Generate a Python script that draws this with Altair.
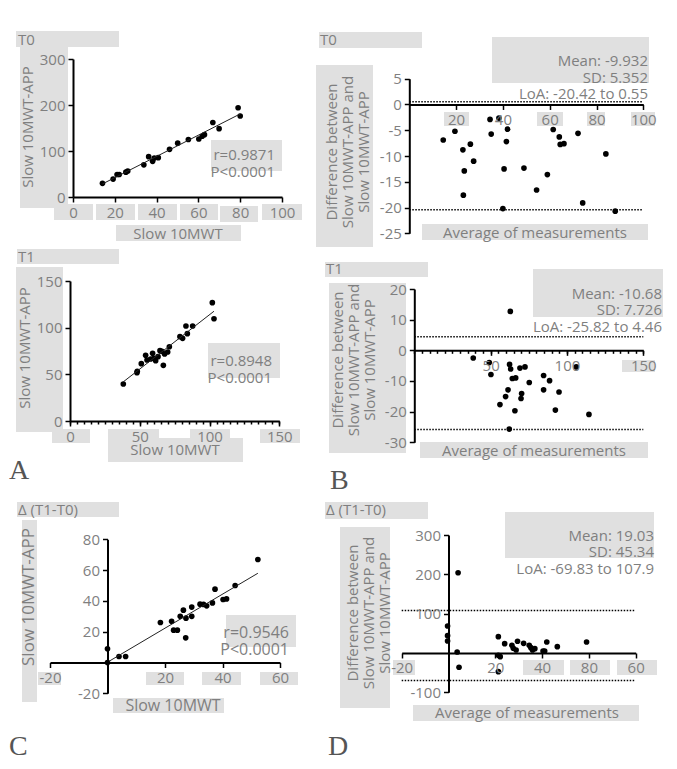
import altair as alt
import pandas as pd

# ---------------- data ----------------
t0_slow = [14.1, 19.2, 21.1, 22.1, 25.3, 26.2, 33.9, 36.2, 38.1, 38.9, 40.8,
           46.2, 50.1, 55.2, 60.2, 61.8, 62.9, 66.9, 69.9, 79.0, 80.0]
t0_app = [29.7, 39, 49, 49, 54, 56.5, 70, 87.7, 77.5, 84.8, 85.5,
          103.6, 117, 125, 126, 132, 135.5, 162, 148.6, 194, 176]

t1_slow = [38.2, 48.0, 48.2, 51.1, 54.2, 55.2, 57.8, 59.2, 60.2, 61.4, 63.1, 64.5,
           65.9, 66.9, 67.8, 70.0, 71.2, 78.8, 80.7, 83.1, 84.1, 87.9, 102.0, 103.2]
t1_app = [39.6, 51.8, 53.2, 61.4, 70.4, 65.4, 66.4, 72.5, 67.1, 64.6, 68.9, 75.4,
          74.6, 59.6, 71.8, 73.9, 79.6, 90.4, 88.6, 101.8, 93.6, 101.8, 126.8, 109.6]

d_slow = [0, 0, 4.0, 6.3, 18.4, 22.3, 23.0, 24.3, 25.3, 26.4, 27.2, 27.3, 29.3,
          29.3, 32.2, 33.4, 34.5, 36.5, 37.4, 40.2, 41.4, 44.4, 52.3]
d_app = [8.9, 0, 3.9, 3.9, 26, 26.8, 21, 21, 30, 34, 16, 28.8, 36,
         30, 37.9, 37.7, 36.8, 38.7, 47.6, 40.9, 41.3, 50, 66.9]

ba0_avg = [14.5, 19.5, 22.9, 23.5, 23.1, 26.1, 27.5, 34.5, 35.0, 38.3, 40.0, 40.5, 41.5,
           42.0, 49.0, 54.4, 59.0, 61.5, 64.1, 64.5, 66.1, 72.1, 74.1, 84.0, 88.0]
ba0_diff = [-6.9, -5.2, -8.8, -12.9, -17.6, -7.7, -11.0, -2.9, -5.75, -2.65, -20.2, -12.5, -7.2,
            -4.8, -12.35, -16.6, -13.6, -4.85, -6.3, -7.75, -7.6, -5.6, -19.1, -9.6, -20.7]
ba0_loa = [0.55, -20.42]

ba1_avg = [38.6, 49.1, 50.2, 62.9, 62.4, 63.1, 64.2, 66.4, 61.4, 59.8, 56.1, 65.9, 62.2,
           69.2, 72.5, 70.3, 69.9, 75.3, 84.7, 84.7, 88.6, 92.4, 94.8, 106.1, 114.4]
ba1_diff = [-2.5, -4.0, -7.9, 12.7, -4.6, -6.1, -9.2, -9.0, -12.9, -15.1, -17.7, -19.7, -25.7,
            -5.8, -5.4, -14.1, -15.7, -10.5, -8.2, -12.9, -9.9, -19.5, -13.6, -5.4, -20.9]
ba1_loa = [4.46, -25.82]

bad_avg = [4.1, -0.4, -0.4, -0.4, 3.7, 4.5, 21.3, 21.3, 21.3, 22.1, 24.0, 27.1, 27.7,
           28.9, 29.5, 32.1, 34.5, 35.2, 36.9, 35.9, 40.4, 41.1, 42.0, 46.5, 59.0]
bad_diff = [204, 68.6, 44, 30.5, 2.5, -36.4, 41.5, -47.5, -6, -9.3, 23.7, 19.5, 11.9,
            7.6, 29.7, 24.6, 19.5, 13.6, 11, 7.6, 5, 5, 28, 16.1, 28]
bad_loa = [107.9, -69.83]

# ---------------- layout ----------------
M = 8
W, H = 661, 753
TXT = "#7f7f7f"
BOX = "#e0e0e0"
FONT = "Open Sans"
NUM = "'' + datum.value"


def lin(v, d, r):
    return r[0] + (v - d[0]) / (d[1] - d[0]) * (r[1] - r[0])


def sc(d, r):
    return alt.Scale(domain=d, range=[r[0] - M, r[1] - M], nice=False, zero=False)


def panel(xv, yv, p, reg=False, loa=None, loa_ext=None, minor=None):
    df = pd.DataFrame({"x": xv, "y": yv})
    x0 = lin(0, p["xdom"], p["xr"])
    y0 = lin(0, p["ydom"], p["yr"])
    xoff = (y0 - M) - H
    yoff = -(x0 - M)
    xaxis = alt.Axis(orient="bottom", offset=xoff, values=p["xvals"], labelExpr=p.get("xexpr", NUM),
                     title=None, grid=False, labelFlush=False, zindex=1, tickSize=5)
    yaxis = alt.Axis(orient="left", offset=yoff, values=p["yvals"], labelExpr=NUM,
                     title=None, grid=False, zindex=1, tickSize=5)
    layers = []
    if loa is not None:
        ldf = pd.DataFrame({"loa": loa, "a": [loa_ext[0]] * len(loa), "b": [loa_ext[1]] * len(loa)})
        layers.append(alt.Chart(ldf).mark_rule(color="black", strokeWidth=1.5, strokeDash=[1.5, 1.5]).encode(
            x=alt.X("a:Q", scale=sc(p["xdom"], p["xr"]), axis=xaxis),
            x2="b:Q",
            y=alt.Y("loa:Q", scale=sc(p["ydom"], p["yr"]), axis=yaxis)))
        pts = alt.Chart(df).mark_circle(size=32, color="black", opacity=1).encode(x="x:Q", y="y:Q")
    else:
        pts = alt.Chart(df).mark_circle(size=32, color="black", opacity=1).encode(
            x=alt.X("x:Q", scale=sc(p["xdom"], p["xr"]), axis=xaxis),
            y=alt.Y("y:Q", scale=sc(p["ydom"], p["yr"]), axis=yaxis))
    layers.append(pts)
    if reg:
        layers.append(alt.Chart(df).transform_regression("x", "y").mark_line(color="#222", strokeWidth=1).encode(
            x="x:Q", y="y:Q"))
    out = [alt.layer(*layers)]
    if minor is not None:
        out.append(alt.Chart(df).mark_circle(opacity=0).encode(
            x=alt.X("x:Q", scale=sc(p["xdom"], p["xr"]),
                    axis=alt.Axis(orient="bottom", offset=xoff, values=minor, labels=False, domain=False,
                                  tickSize=3, grid=False, title=None, zindex=1)),
            y=alt.Y("y:Q", scale=sc(p["ydom"], p["yr"]), axis=None)))
    return out


PA0 = dict(xdom=[0, 100], xr=[73, 282], ydom=[0, 300], yr=[197, 59],
           xvals=[0, 20, 40, 60, 80, 100], yvals=[0, 100, 200, 300])
PA1 = dict(xdom=[0, 150], xr=[70, 279.3], ydom=[0, 150], yr=[421, 281],
           xvals=[0, 50, 100, 150], yvals=[0, 50, 100, 150])
PC = dict(xdom=[-20, 60], xr=[50, 280], ydom=[-20, 80], yr=[693.3, 539.3],
          xvals=[-20, 20, 40, 60], yvals=[-20, 20, 40, 60, 80])
PB0 = dict(xdom=[0, 100], xr=[409.3, 643.3], ydom=[-25, 5], yr=[233.3, 78.7],
           xvals=[20, 40, 60, 80, 100], yvals=[5, 0, -5, -10, -15, -20, -25])
PB1 = dict(xdom=[0, 150], xr=[414.3, 643.3], ydom=[-30, 20], yr=[442.3, 289],
           xvals=[50, 100, 150], yvals=[20, 10, 0, -10, -20, -30])
PD = dict(xdom=[-20, 80], xr=[401.7, 635.7], ydom=[-100, 300], yr=[692.3, 535],
          xvals=[-20, 20, 40, 60, 80], yvals=[300, 200, 100, -100],
          xexpr="datum.value == 60 ? '80' : (datum.value == 80 ? '60' : '' + datum.value)")

minor150 = list(range(0, 151, 5))

panels = []
panels += panel(t0_slow, t0_app, PA0, reg=True)
panels += panel(t1_slow, t1_app, PA1, reg=True, minor=minor150)
panels += panel(d_slow, d_app, PC, reg=True)
panels += panel(ba0_avg, ba0_diff, PB0, loa=ba0_loa, loa_ext=[0, 100])
panels += panel(ba1_avg, ba1_diff, PB1, loa=ba1_loa, loa_ext=[0, 150], minor=minor150)
panels += panel(bad_avg, bad_diff, PD, loa=bad_loa, loa_ext=[-20, 80])

# gray label boxes (image pixel coordinates: x1, x2, y1, y2)
boxes = [
    (16, 119, 31, 47), (20, 68, 47, 208), (54, 93, 204, 220), (96, 135, 204, 220), (138, 177, 204, 220),
    (180, 218, 204, 220), (220, 258, 206, 222), (262, 302, 204, 220), (211, 282, 140, 171), (116, 241, 225, 241),
    (319, 422, 32, 48), (492, 649, 37, 83), (316, 373, 65, 247), (444, 469, 112, 126), (537, 563, 112, 126),
    (587, 605, 112, 126), (631, 655, 112, 126), (422, 648, 224, 240),
    (17, 119, 249, 264), (16, 63, 267, 432), (52, 90, 429, 443), (108, 159, 429, 443), (190, 230, 429, 443),
    (260, 300, 429, 443), (108, 243, 438, 462), (208, 280, 343, 378),
    (325, 428, 262, 277), (533, 663, 269, 317), (329, 406, 283, 453), (622, 655, 360, 372), (420, 648, 442, 458),
    (17, 119, 502, 517), (22, 37, 520, 702), (226, 296, 615, 647), (38, 61, 672, 685), (146, 184, 672, 685),
    (202, 241, 672, 685), (260, 298, 672, 685), (113, 224, 698, 713),
    (325, 428, 502, 519), (505, 654, 512, 558), (340, 390, 527, 708), (393, 415, 660, 675), (523, 564, 660, 675),
    (570, 610, 660, 675), (617, 657, 660, 675), (413, 639, 705, 721),
]
bdf = pd.DataFrame([(a - M, b - M, c - M, d - M) for a, b, c, d in boxes], columns=["x1", "x2", "y1", "y2"])
box_layer = alt.Chart(bdf).mark_rect(color=BOX).encode(
    x=alt.X("x1:Q", scale=None, axis=None), x2="x2:Q",
    y=alt.Y("y1:Q", scale=None, axis=None), y2="y2:Q")

BA_T = "Difference between\nSlow 10MWT-APP and\nSlow 10MWT-APP"


def tdf(rows):
    return pd.DataFrame([(t, x - M, y - M, s) for t, x, y, s in rows], columns=["t", "x", "y", "s"])


def text_layer(rows, **kw):
    return alt.Chart(tdf(rows)).mark_text(font=FONT, color=TXT, lineBreak="\n", **kw).encode(
        x=alt.X("x:Q", scale=None, axis=None), y=alt.Y("y:Q", scale=None, axis=None),
        text="t:N", size=alt.Size("s:Q", scale=None, legend=None))


titles = text_layer([("T0", 18, 40, 15), ("T1", 18, 257, 15), ("Δ (T1-T0)", 18, 510, 15),
                     ("T0", 320, 40, 15), ("T1", 326, 269, 15), ("Δ (T1-T0)", 326, 510, 15)],
                    align="left", baseline="middle")
ytitles = text_layer([("Slow 10MWT-APP", 28, 127, 15), ("Slow 10MWT-APP", 25, 348, 15),
                      ("Slow 10MWT-APP", 29, 597, 17), (BA_T, 332, 152, 15), (BA_T, 338, 360, 15),
                      (BA_T, 353, 613, 15)],
                     align="center", baseline="middle", angle=270, lineHeight=16)
xtitles = text_layer([("Slow 10MWT", 178, 234, 15), ("Slow 10MWT", 175, 450, 15), ("Slow 10MWT", 173, 706, 16),
                      ("Average of measurements", 535, 233, 15), ("Average of measurements", 534, 451, 15),
                      ("Average of measurements", 527, 713, 15)],
                     align="center", baseline="middle")
annots = text_layer([("r=0.9871\nP<0.0001", 275, 155, 15), ("r=0.8948\nP<0.0001", 272, 361, 15),
                     ("r=0.9546\nP<0.0001", 289, 633, 16),
                     ("Mean: -9.932\nSD: 5.352\nLoA: -20.42 to 0.55", 648, 61, 15),
                     ("Mean: -10.68\nSD: 7.726\nLoA: -25.82 to 4.46", 662, 293.5, 15),
                     ("Mean: 19.03\nSD: 45.34\nLoA: -69.83 to 107.9", 654, 535.7, 15)],
                    align="right", baseline="middle", lineHeight=16.5)
letters = alt.Chart(tdf([("A", 9, 479, 28), ("B", 330, 489, 28), ("C", 9, 755, 28), ("D", 328, 755, 28)])).mark_text(
    font="Liberation Serif", color="#555", align="left", baseline="alphabetic").encode(
    x=alt.X("x:Q", scale=None, axis=None), y=alt.Y("y:Q", scale=None, axis=None),
    text="t:N", size=alt.Size("s:Q", scale=None, legend=None))

chart = alt.layer(box_layer, *panels, titles, ytitles, xtitles, annots, letters).resolve_scale(
    x="independent", y="independent").resolve_axis(x="independent", y="independent").properties(
    width=W, height=H, padding=0, autosize=alt.AutoSizeParams(type="none")
).configure_view(strokeWidth=0).configure_axis(
    domainColor="black", domainWidth=2, tickColor="black", tickWidth=1.5,
    labelColor=TXT, labelFont=FONT, labelFontSize=15, labelPadding=3)

chart.save("out.html", embed_options={"renderer": "svg", "actions": False})
